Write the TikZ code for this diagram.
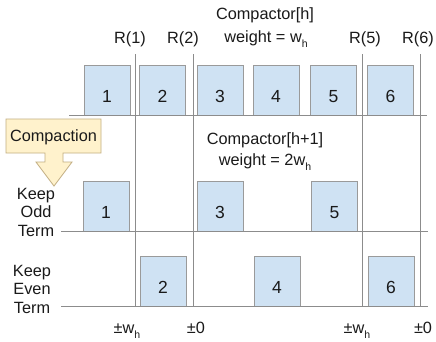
\documentclass[tikz,border=0pt]{standalone}
\usepackage{fontspec}
\setmainfont{Liberation Sans}
\definecolor{boxfill}{HTML}{CFE2F3}
\definecolor{boxline}{HTML}{9A9A9A}
\definecolor{gridline}{HTML}{8C8C8C}
\definecolor{callfill}{HTML}{FFF2CC}
\definecolor{callline}{HTML}{C2AE82}
\definecolor{ink}{HTML}{1A1A1A}
\newcommand{\lowsub}[1]{\raisebox{-5bp}{\fontsize{10.5bp}{10.5bp}\selectfont #1}}
\tikzset{
  cell/.style={draw=boxline, fill=boxfill, line width=0.8bp, minimum width=46bp, minimum height=50bp,
    inner sep=0pt, text height=24bp, text depth=0pt, text=ink, font=\fontsize{17.5bp}{20bp}\selectfont},
  grid/.style={draw=gridline, line width=0.8bp},
  lbl/.style={text=ink, inner sep=0pt, font=\fontsize{16.3bp}{18.5bp}\selectfont, align=center},
}
\begin{document}
\begin{tikzpicture}[x=1bp,y=-1bp]
\useasboundingbox[fill=white] (0,0) rectangle (436,341);
% horizontal lines
\coordinate (h1a) at (69,115); \coordinate (h1b) at (427,115);
\coordinate (h2a) at (61,231); \coordinate (h2b) at (428,231);
\coordinate (h3a) at (61,306); \coordinate (h3b) at (428,306);
% vertical lines
\coordinate (v1a) at (135,54); \coordinate (v1b) at (135,307);
\coordinate (v2a) at (193,54); \coordinate (v2b) at (193,307);
\coordinate (v5a) at (362,54); \coordinate (v5b) at (362,307);
\coordinate (v6a) at (420,54); \coordinate (v6b) at (420,307);
% top row
\node[cell] (t1) at (107,90) {1};
\node[cell] (t2) at (162.5,90) {2};
\node[cell] (t3) at (220,90) {3};
\node[cell] (t4) at (276,90) {4};
\node[cell] (t5) at (333.5,90) {5};
\node[cell] (t6) at (390.5,90) {6};
% odd row
\node[cell] (o1) at (106,206.5) {1};
\node[cell] (o3) at (220,206.5) {3};
\node[cell] (o5) at (334.5,206.5) {5};
% even row
\node[cell] (e2) at (163,281) {2};
\node[cell] (e4) at (277,281) {4};
\node[cell] (e6) at (391,281) {6};
% lines
\draw[grid] (h1a) -- (h1b);
\draw[grid] (h2a) -- (h2b);
\draw[grid] (h3a) -- (h3b);
\draw[grid] (v1a) -- (v1b);
\draw[grid] (v2a) -- (v2b);
\draw[grid] (v5a) -- (v5b);
\draw[grid] (v6a) -- (v6b);
% labels
\node[lbl] (r1) at (130,39) {R(1)};
\node[lbl] (r2) at (183,39) {R(2)};
\node[lbl] (r5) at (365,39) {R(5)};
\node[lbl] (r6) at (418,39) {R(6)};
\node[lbl] (ch) at (265,15) {Compactor[h]};
\node[lbl,anchor=base] (wh) at (266,42) {weight = w\lowsub{h}};
\node[lbl] (ch1) at (265,140) {Compactor[h+1]};
\node[lbl,anchor=base] (wh1) at (265,165) {weight = 2w\lowsub{h}};
\node[lbl] (odd) at (36,212) {Keep\\Odd\\Term};
\node[lbl] (even) at (32,289) {Keep\\Even\\Term};
\node[lbl,anchor=base] (b1) at (127,333) {±w\lowsub{h}};
\node[lbl,anchor=base] (b2) at (196,333) {±0};
\node[lbl,anchor=base] (b5) at (357,333) {±w\lowsub{h}};
\node[lbl,anchor=base] (b6) at (423,333) {±0};
% callout
\draw[draw=callline, fill=callfill, line width=0.8bp, line join=miter]
  (6,119) -- (101,119) -- (101,153) -- (63,153) -- (63,162) -- (72,162) -- (54,186)
  -- (36,162) -- (45,162) -- (45,153) -- (6,153) -- cycle;
\node[lbl] (comp) at (53.5,137) {Compaction};
\end{tikzpicture}
\end{document}
